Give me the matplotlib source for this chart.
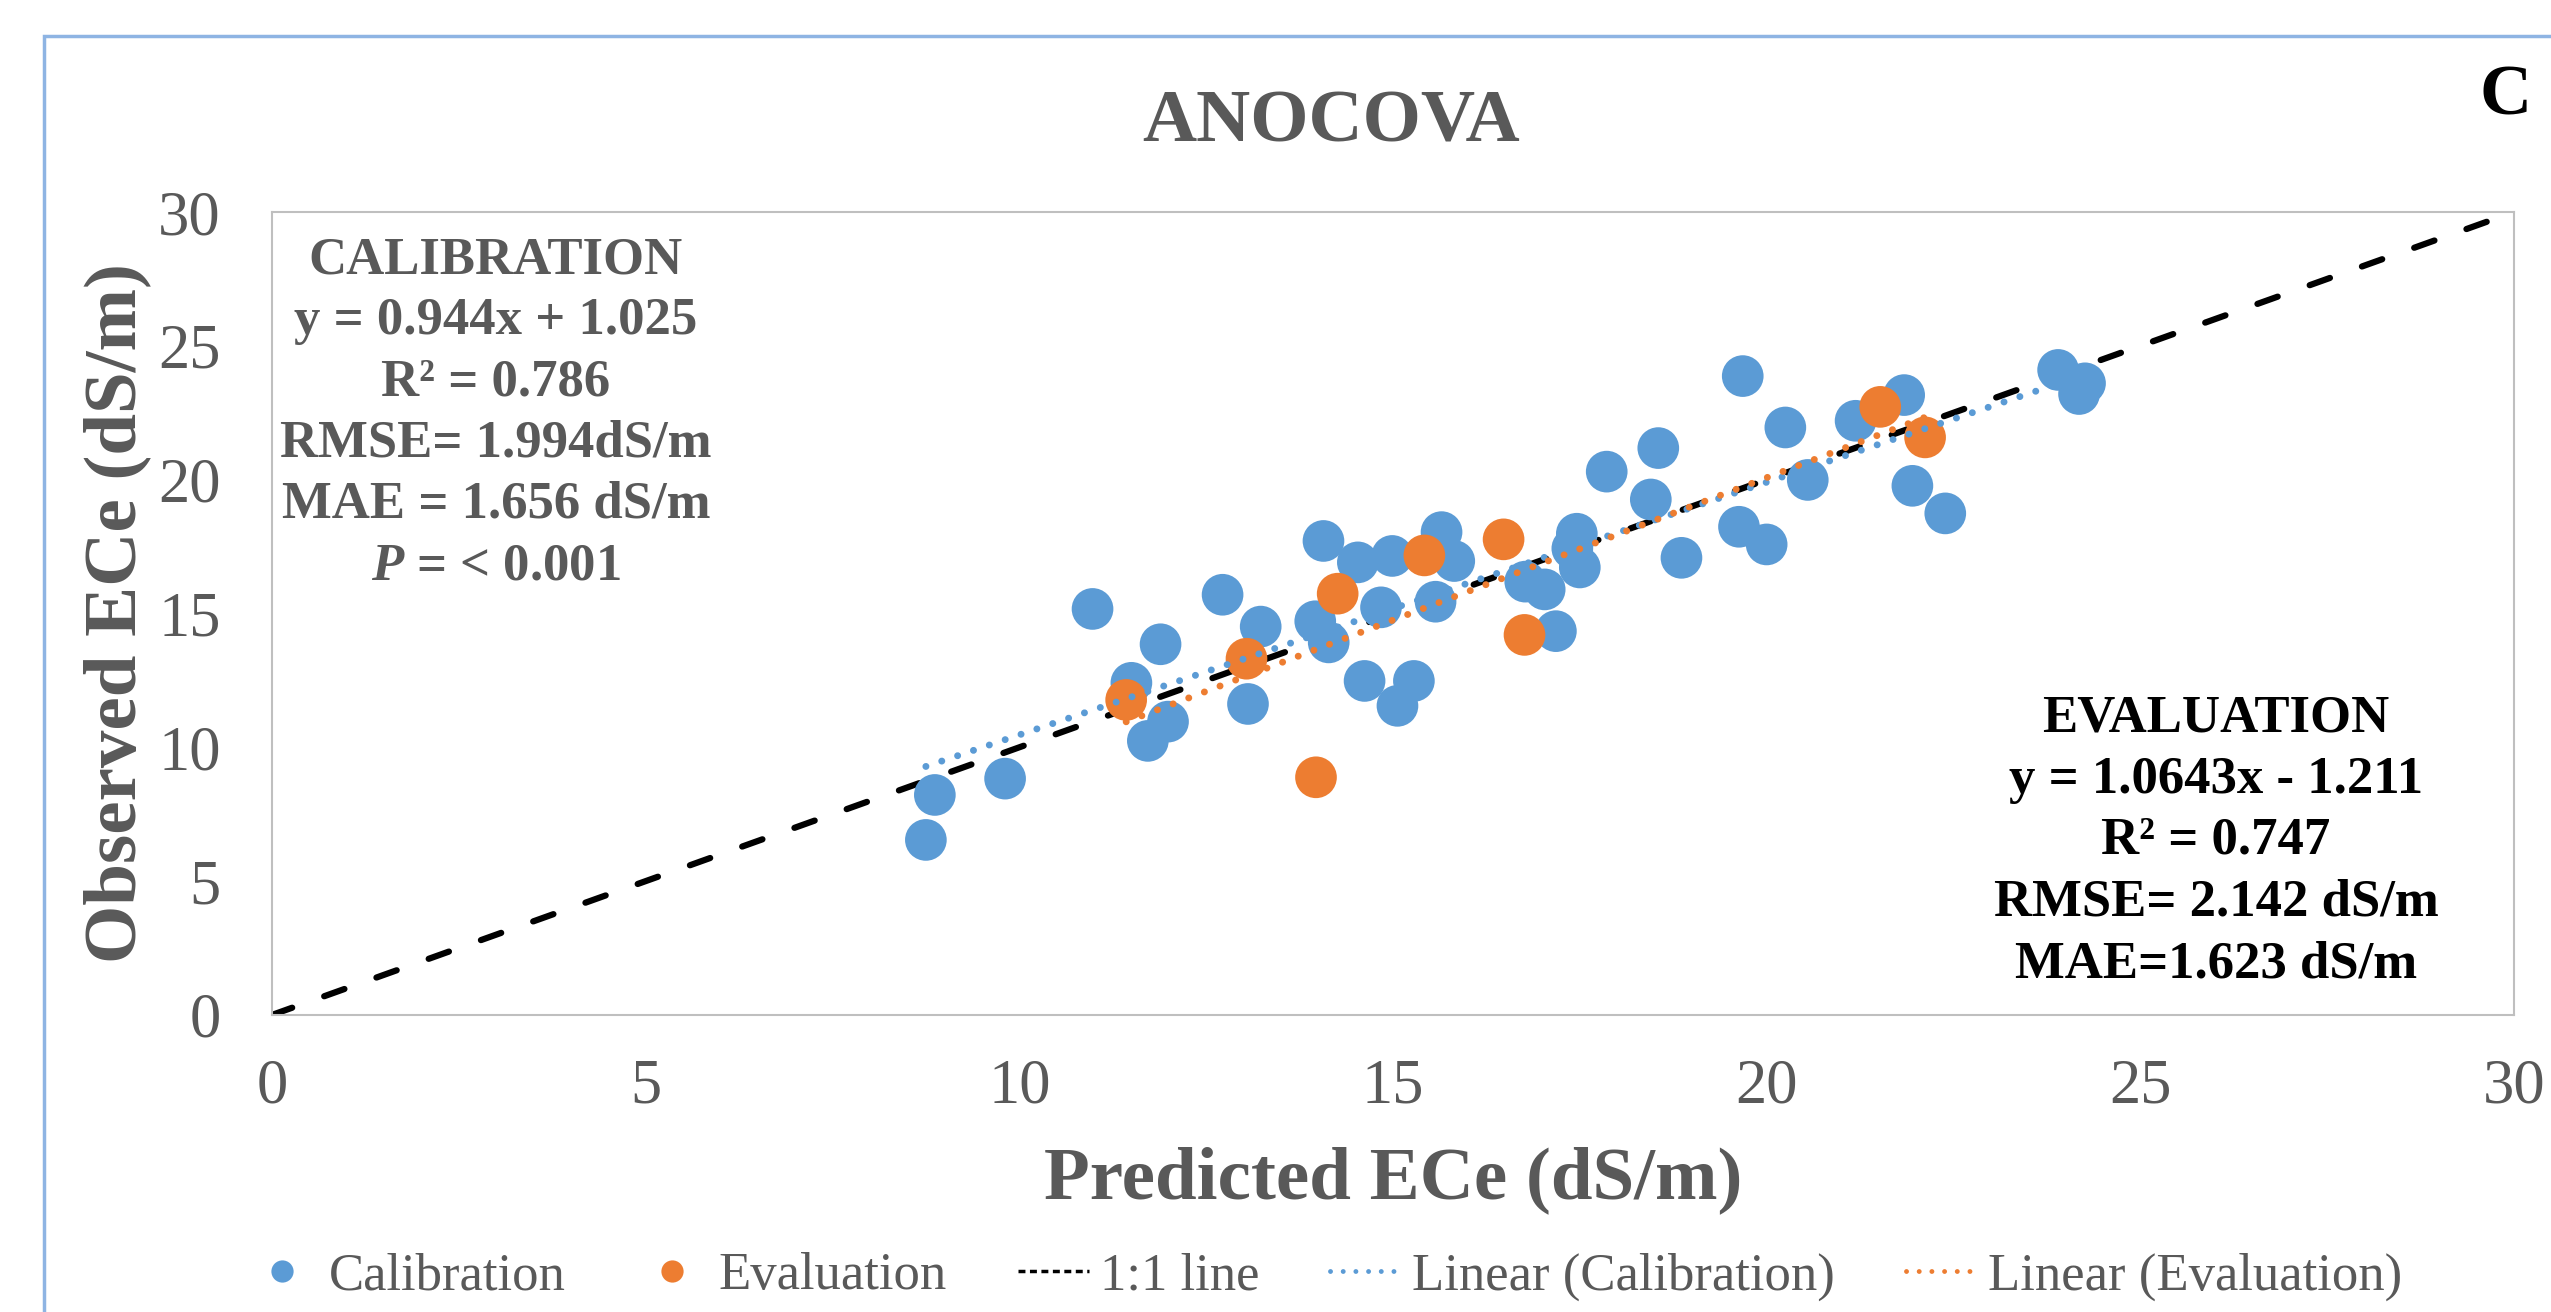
import numpy as np
import matplotlib.pyplot as plt
from matplotlib.lines import Line2D
from matplotlib.patches import Rectangle

plt.rcParams["font.family"] = ["Liberation Serif", "DejaVu Serif"]
plt.rcParams["mathtext.fontset"] = "custom"
plt.rcParams["mathtext.it"] = "Liberation Serif:italic:bold"
plt.rcParams["mathtext.rm"] = "Liberation Serif:bold"

# calibration points (predicted, observed ECe in dS/m)
cal_pred = [8.75, 8.87, 9.81, 10.98, 11.50, 11.72, 11.99, 11.89, 12.72, 13.06,
            13.23, 13.96, 14.14, 14.07, 14.53, 14.62, 14.84, 14.99, 15.06, 15.28,
            15.57, 15.65, 15.82, 16.77, 17.03, 17.18, 17.46, 17.40, 17.50, 17.86,
            18.45, 18.55, 18.86, 19.63, 19.68, 20.00, 20.25, 20.55, 21.19, 21.84,
            21.95, 22.39, 23.90, 24.26, 24.18]
cal_obs = [6.54, 8.22, 8.83, 15.17, 12.41, 10.24, 10.96, 13.85, 15.70, 11.62,
           14.51, 14.71, 13.92, 17.71, 16.91, 12.48, 15.23, 17.15, 11.55, 12.48,
           15.44, 18.04, 16.96, 16.19, 15.90, 14.34, 17.98, 17.43, 16.72, 20.30,
           19.26, 21.18, 17.08, 18.24, 23.87, 17.58, 21.95, 19.99, 22.20, 23.16,
           19.77, 18.74, 24.10, 23.60, 23.20]

# evaluation points
eva_pred = [11.43, 13.04, 13.97, 14.26, 15.42, 16.48, 16.76, 21.52, 22.12]
eva_obs = [11.77, 13.31, 8.88, 15.74, 17.17, 17.77, 14.20, 22.72, 21.58]

# fitted trendlines as reported on the chart
cal_slope, cal_icpt = 0.944, 1.025
eva_slope, eva_icpt = 1.0643, -1.211

cal_lines = ["CALIBRATION", "y = 0.944x + 1.025", "R² = 0.786",
             "RMSE= 1.994dS/m", "MAE = 1.656 dS/m", r"$\mathit{P}$ = < 0.001"]
eva_lines = ["EVALUATION", "y = 1.0643x - 1.211", "R² = 0.747",
             "RMSE= 2.142 dS/m", "MAE=1.623 dS/m"]

blue = "#5B9BD5"
orange = "#ED7D31"
gray = "#595959"

fig = plt.figure(figsize=(25.51, 13.12), dpi=100)
ax = fig.add_axes([0.1066, 0.2264, 0.8789, 0.612])

# 1:1 line
ax.plot([0, 30], [0, 30], color="black", lw=4.5, dashes=(3.44, 5.44),
        dash_capstyle="round", zorder=1)

ax.scatter(cal_pred, cal_obs, s=900, color=blue, edgecolors="none", zorder=2)
ax.scatter(eva_pred, eva_obs, s=900, color=orange, edgecolors="none", zorder=3)

xc = np.array([min(cal_pred), max(cal_pred)])
ax.plot(xc, cal_slope * xc + cal_icpt, color=blue, lw=5, dashes=(0.01, 2.4),
        dash_capstyle="round", zorder=4)
xe = np.array([min(eva_pred), max(eva_pred)])
ax.plot(xe, eva_slope * xe + eva_icpt, color=orange, lw=5, dashes=(0.01, 2.4),
        dash_capstyle="round", zorder=5)

ax.set_xlim(0, 30)
ax.set_ylim(0, 30)
ax.set_xticks(range(0, 31, 5))
ax.set_yticks(range(0, 31, 5))
ax.tick_params(length=0, labelsize=45, labelcolor=gray)
ax.tick_params(axis="x", pad=31)
ax.tick_params(axis="y", pad=37)
for sp in ax.spines.values():
    sp.set_color("#BFBFBF")
    sp.set_linewidth(1.5)

ax.set_xlabel("Predicted ECe (dS/m)", fontsize=54, fontweight="bold",
              color=gray, labelpad=22)
ax.set_ylabel("Observed ECe (dS/m)", fontsize=54, fontweight="bold",
              color=gray, labelpad=5)

fig.text(0.5218, 0.906, "ANOCOVA", fontsize=54, fontweight="bold",
         color=gray, ha="center", va="center")
fig.text(0.9823, 0.926, "C", fontsize=52, fontweight="bold",
         color="black", ha="center", va="center")

H = 1312.0
for i, line in enumerate(cal_lines):
    fig.text(496 / 2551, 1 - (260 + i * 61.2) / H, line, fontsize=38,
             fontweight="bold", color=gray, ha="center", va="center")
for i, line in enumerate(eva_lines):
    fig.text(2216 / 2551, 1 - (718 + i * 61.5) / H, line, fontsize=38,
             fontweight="bold", color="black", ha="center", va="center")

handles = [
    Line2D([], [], marker="o", ls="none", ms=16, color=blue, mec="none"),
    Line2D([], [], marker="o", ls="none", ms=16, color=orange, mec="none"),
    Line2D([], [], color="black", lw=2.5, dashes=(2, 1.3)),
    Line2D([], [], color=blue, lw=3.5, dashes=(0.01, 2.6), dash_capstyle="round"),
    Line2D([], [], color=orange, lw=3.5, dashes=(0.01, 2.6), dash_capstyle="round"),
]
labels = ["Calibration", "Evaluation", "1:1 line",
          "Linear (Calibration)", "Linear (Evaluation)"]
fig.legend(handles, labels, loc="center", bbox_to_anchor=(0.5192, 0.027),
           ncol=5, frameon=False, fontsize=38, handlelength=1.35,
           handletextpad=0.2, columnspacing=1.35, labelcolor=gray)

# chart area border
fig.add_artist(Rectangle((44 / 2551, -0.1), 1.2, 0.1 + 1 - 36 / H,
                         transform=fig.transFigure, fill=False,
                         edgecolor="#8EB4E3", lw=2.5, clip_on=False))

fig.savefig("out.png", dpi=100)
